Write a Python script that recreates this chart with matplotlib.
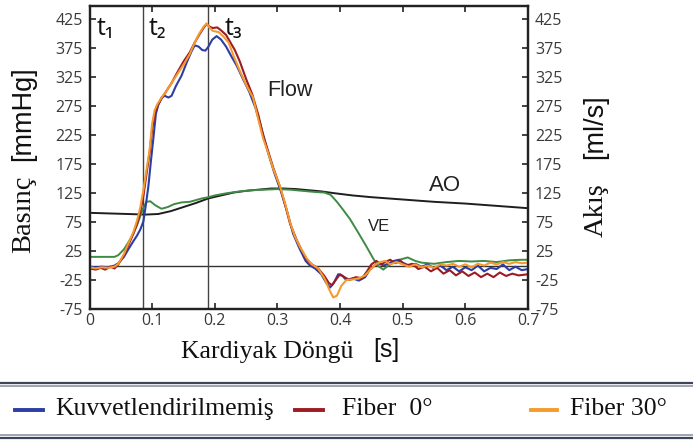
import numpy as np
import matplotlib.pyplot as plt
from matplotlib.lines import Line2D

plt.rcParams['axes.unicode_minus'] = False

# Akış eğrileri (ml/s) - Kuvvetlendirilmemiş
t_kuv = [0, 0.01, 0.02, 0.03, 0.04, 0.046, 0.055, 0.062, 0.07, 0.076, 0.081, 0.086,
         0.09, 0.094, 0.098, 0.102, 0.106, 0.11, 0.115, 0.12, 0.126, 0.131, 0.138,
         0.147, 0.155, 0.163, 0.168, 0.174, 0.18, 0.185, 0.19, 0.196, 0.203, 0.21,
         0.218, 0.226, 0.235, 0.245, 0.255, 0.265, 0.275, 0.285, 0.295, 0.305, 0.315,
         0.325, 0.335, 0.345, 0.352, 0.36, 0.37, 0.378, 0.384, 0.39, 0.397, 0.404,
         0.41, 0.42, 0.43, 0.44, 0.447, 0.455, 0.462, 0.47, 0.478, 0.486, 0.494, 0.5,
         0.51, 0.52, 0.53, 0.54, 0.55, 0.56, 0.57, 0.58, 0.59, 0.6, 0.61, 0.62, 0.63,
         0.64, 0.65, 0.66, 0.67, 0.68, 0.69, 0.7]
q_kuv = [-2, -3, -2, -3, 0, 4, 15, 28, 42, 52, 62, 76,
         105, 137, 180, 220, 262, 278, 290, 293, 290, 293, 310,
         328, 350, 370, 380, 378, 372, 371, 378, 390, 396, 390,
         378, 362, 345, 322, 300, 272, 235, 195, 160, 130, 95,
         55, 30, 8, 0, -5, -15, -30, -38, -30, -15, -18,
         -25, -22, -26, -20, -8, 0, 4, 0, 4, 8, 10, 5,
         0, 3, -2, 2, -5, 0, -8, -2, -10, -3, -8, 0, -10,
         -4, -6, 2, -8, -2, -8, -6]

# Fiber 0°
t_f0 = [0, 0.01, 0.018, 0.025, 0.033, 0.04, 0.046, 0.055, 0.062, 0.07, 0.076, 0.081,
        0.086, 0.091, 0.096, 0.1, 0.104, 0.108, 0.115, 0.122, 0.131, 0.14, 0.15, 0.16,
        0.168, 0.175, 0.182, 0.187, 0.192, 0.197, 0.204, 0.21, 0.218, 0.225, 0.232,
        0.24, 0.25, 0.26, 0.27, 0.277, 0.285, 0.293, 0.304, 0.312, 0.32, 0.33, 0.338,
        0.347, 0.355, 0.365, 0.375, 0.382, 0.387, 0.393, 0.4, 0.407, 0.415, 0.425,
        0.435, 0.443, 0.45, 0.458, 0.465, 0.472, 0.48, 0.488, 0.496, 0.505, 0.515,
        0.525, 0.535, 0.545, 0.555, 0.565, 0.575, 0.585, 0.595, 0.605, 0.615, 0.625,
        0.635, 0.645, 0.655, 0.665, 0.675, 0.685, 0.7]
q_f0 = [-5, -7, -4, -7, -2, -5, 2, 18, 35, 55, 73, 92,
        120, 158, 195, 235, 262, 275, 288, 300, 315, 333, 352, 368,
        385, 398, 410, 417, 412, 410, 411, 406, 398, 385, 372,
        352, 322, 295, 258, 225, 198, 170, 136, 106, 73, 46, 28,
        10, 2, -5, -18, -30, -34, -25, -15, -20, -25, -20,
        -22, -10, 2, 8, 2, 6, 10, 4, 8, 0, 3,
        -6, -2, -10, -4, -14, -8, -17, -10, -18, -12, -20,
        -14, -20, -12, -18, -14, -17, -15]

# Fiber 30°
t_f30 = [0, 0.01, 0.02, 0.03, 0.04, 0.046, 0.055, 0.062, 0.07, 0.076, 0.081, 0.086,
         0.091, 0.096, 0.1, 0.104, 0.108, 0.115, 0.122, 0.131, 0.14, 0.152, 0.16,
         0.168, 0.175, 0.182, 0.187, 0.192, 0.197, 0.206, 0.214, 0.222, 0.23, 0.24,
         0.25, 0.261, 0.27, 0.277, 0.285, 0.293, 0.304, 0.312, 0.32, 0.328, 0.336,
         0.347, 0.355, 0.365, 0.375, 0.383, 0.389, 0.395, 0.402, 0.41, 0.42, 0.43,
         0.44, 0.45, 0.457, 0.464, 0.472, 0.48, 0.49, 0.5, 0.51, 0.52, 0.53, 0.54,
         0.55, 0.56, 0.57, 0.58, 0.59, 0.6, 0.61, 0.62, 0.63, 0.64, 0.65, 0.66, 0.67,
         0.68, 0.69, 0.7]
q_f30 = [-3, -5, -3, -4, -2, 3, 20, 38, 58, 78, 100, 130,
         165, 200, 245, 268, 278, 290, 300, 315, 330, 350, 365,
         385, 400, 412, 418, 410, 405, 403, 395, 385, 362, 336,
         312, 290, 250, 220, 195, 168, 137, 108, 75, 50, 32,
         12, 2, -5, -22, -42, -55, -52, -35, -25, -24, -22,
         -17, -5, 2, 6, 8, 2, 6, 2, -2, 2, -3, 0,
         -4, 2, 0, 3, -2, 2, -3, 3, 0, 5, 2, 6, 3,
         6, 4, 5]

# Basınç eğrileri (mmHg) - sol ventrikül (VE) ve aort (AO)
t_ve = [0, 0.02, 0.04, 0.046, 0.055, 0.062, 0.07, 0.076, 0.081, 0.086, 0.091, 0.097,
        0.105, 0.115, 0.125, 0.135, 0.147, 0.16, 0.17, 0.18, 0.19, 0.2, 0.22, 0.24,
        0.26, 0.28, 0.3, 0.32, 0.34, 0.36, 0.375, 0.385, 0.395, 0.405, 0.416, 0.43,
        0.442, 0.453, 0.46, 0.469, 0.477, 0.485, 0.495, 0.508, 0.52, 0.53, 0.55, 0.57,
        0.59, 0.61, 0.63, 0.65, 0.67, 0.69, 0.7]
p_ve = [15, 15, 15, 18, 28, 40, 55, 70, 85, 100, 110, 111,
        104, 98, 101, 106, 109, 110, 113, 116, 118, 121, 125, 128,
        130, 131, 132, 131, 129, 127, 126, 122, 110, 96, 80, 55,
        33, 12, 0, -7, 0, 5, 10, 14, 8, 5, 3, 6,
        8, 7, 8, 6, 9, 10, 10]

t_ao = [0, 0.03, 0.06, 0.09, 0.11, 0.13, 0.15, 0.17, 0.19, 0.21, 0.23, 0.25, 0.27,
        0.29, 0.31, 0.33, 0.35, 0.37, 0.39, 0.42, 0.45, 0.5, 0.55, 0.6, 0.65, 0.7]
p_ao = [91, 90, 89, 88, 89, 94, 101, 108, 116, 121, 126, 129, 131,
        133, 133, 132, 130, 128, 125, 121, 118, 114, 110, 107, 103, 99]

# Kalp döngüsündeki zaman işaretleri
t_isaret = [0.086, 0.189]
isaret_etiket = ['t₁', 't₂', 't₃']
isaret_x = [0.012, 0.095, 0.216]

yticks = [-75, -25, 25, 75, 125, 175, 225, 275, 325, 375, 425]
xticks = [0, 0.1, 0.2, 0.3, 0.4, 0.5, 0.6, 0.7]
xtick_labels = ['0', '0.1', '0.2', '0.3', '0.4', '0.5', '0.6', '0.7']

mavi = '#2c3ea3'
kirmizi = '#9c1c22'
turuncu = '#f59a2e'
yesil = '#3f8a45'
siyah = '#1e1e1e'

W, H = 693, 441
fig = plt.figure(figsize=(W / 100, H / 100), dpi=100)
ax = fig.add_axes([89.5 / W, 1 - 309 / H, (528 - 89.5) / W, (309 - 6) / H])

ax.axhline(0, color='#333333', lw=1.0, zorder=1)
for tv in t_isaret:
    ax.axvline(tv, color='#444444', lw=1.0, zorder=1)

ax.plot(t_ao, p_ao, color=siyah, lw=1.4, zorder=2)
ax.plot(t_ve, p_ve, color=yesil, lw=1.4, zorder=2)
ax.plot(t_kuv, q_kuv, color=mavi, lw=1.5, zorder=3)
ax.plot(t_f0, q_f0, color=kirmizi, lw=1.5, zorder=4)
ax.plot(t_f30, q_f30, color=turuncu, lw=1.5, zorder=5)

ax.set_xlim(0, 0.7)
ax.set_ylim(-75, 448)
ax.set_xticks(xticks)
ax.set_xticklabels(xtick_labels)
ax.set_yticks(yticks)

ax2 = ax.twinx()
ax2.set_ylim(ax.get_ylim())
ax2.set_yticks(yticks)

tick_font = dict(family='Open Sans', size=11.5, color='#3a3a3a')
for a in (ax, ax2):
    a.tick_params(direction='in', length=4, width=1.2, color='#222222', pad=5)
    for lab in a.get_xticklabels() + a.get_yticklabels():
        lab.set_fontfamily(tick_font['family'])
        lab.set_fontsize(tick_font['size'])
        lab.set_color(tick_font['color'])
    for sp in a.spines.values():
        sp.set_linewidth(1.6)
        sp.set_color('#222222')
ax.tick_params(top=True)
ax.tick_params(axis='x', pad=3)

# Eğri üzerindeki açıklamalar
for lab, xv in zip(isaret_etiket, isaret_x):
    ax.text(xv, 410, lab, family='Open Sans', fontsize=18, color='#111111',
            ha='left', va='center')
ax.text(0.283, 303, 'Flow', family='Liberation Sans', fontsize=15.5, color='#222222',
        va='center')
ax.text(0.542, 138, 'AO', family='Liberation Sans', fontsize=16, color='#222222',
        va='center')
ax.text(0.444, 67, 'VE', family='Liberation Sans', fontsize=12, color='#222222',
        va='center')

# Eksen başlıkları (serif + sans karışık)
def fx(x):
    return x / W

def fy(y):
    return 1 - y / H

fig.text(fx(24), fy(214), 'Basınç', family='Liberation Serif', fontsize=20.5,
         rotation=90, ha='center', va='center', color='#111111')
fig.text(fx(23), fy(114), '[mmHg]', family='Liberation Sans', fontsize=19.5,
         rotation=90, ha='center', va='center', color='#111111')
fig.text(fx(596), fy(210), 'Akış', family='Liberation Serif', fontsize=20.5,
         rotation=90, ha='center', va='center', color='#111111')
fig.text(fx(595), fy(127), '[ml/s]', family='Liberation Sans', fontsize=19.5,
         rotation=90, ha='center', va='center', color='#111111')
fig.text(fx(267), fy(352), 'Kardiyak Döngü', family='Liberation Serif', fontsize=18.5,
         ha='center', va='center', color='#111111')
fig.text(fx(386), fy(350), '[s]', family='Liberation Sans', fontsize=18,
         ha='center', va='center', color='#111111')

# Alt kısımdaki gösterge kutusu
for yy, c, lw in [(382.5, '#3e4556', 1.6), (385.5, '#8d95a4', 1.2),
                  (435.0, '#8d95a4', 1.2), (438.0, '#3e4556', 1.6)]:
    fig.add_artist(Line2D([0, 1], [fy(yy), fy(yy)], transform=fig.transFigure,
                          color=c, lw=lw))

gosterge = [(mavi, 15, 43, 55, 'Kuvvetlendirilmemiş'),
            (kirmizi, 295, 323, 342, 'Fiber  0°'),
            (turuncu, 531, 557, 570, 'Fiber 30°')]
for c, x0, x1, xt, txt in gosterge:
    fig.add_artist(Line2D([fx(x0), fx(x1)], [fy(410), fy(410)],
                          transform=fig.transFigure, color=c, lw=2.8))
    fig.text(fx(xt), fy(409), txt, family='Liberation Serif', fontsize=18.5,
             ha='left', va='center', color='#111111')

fig.savefig('out.png', dpi=100)
